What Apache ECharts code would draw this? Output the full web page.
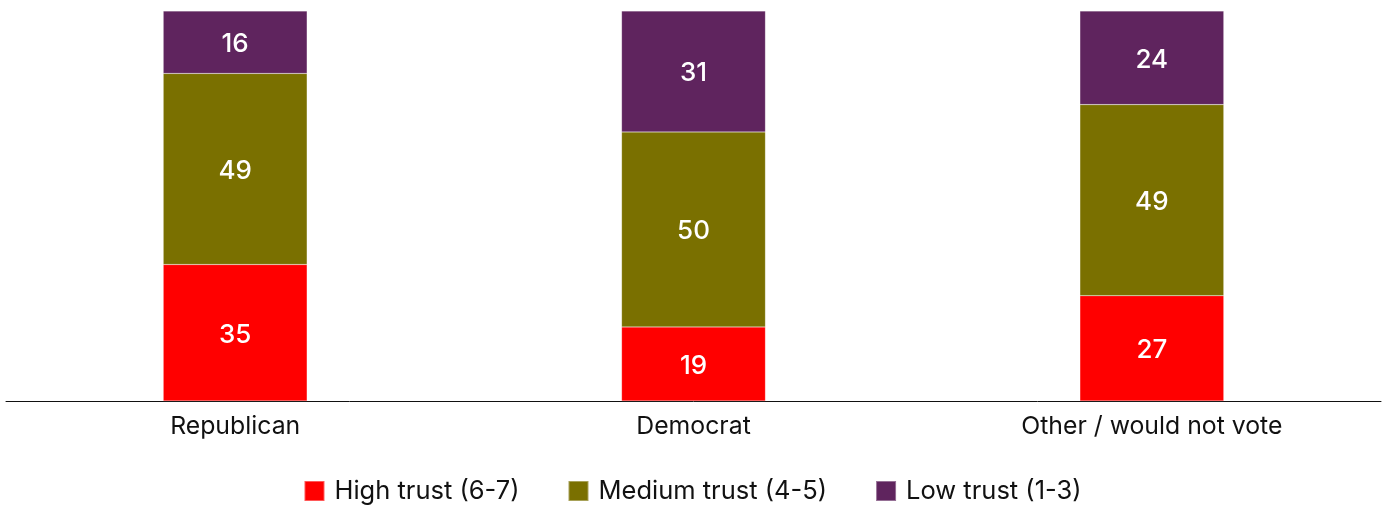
<!DOCTYPE html>
<html>
<head>
<meta charset="utf-8">
<script src="https://cdn.jsdelivr.net/npm/echarts@6/dist/echarts.min.js"></script>
<style>html,body{margin:0;padding:0;background:#fff}#c{width:1385px;height:505px}</style>
</head>
<body>
<div id="c"></div>
<script>
const categories = ['Republican', 'Democrat', 'Other / would not vote'];
const seriesNames = ['High trust (6-7)', 'Medium trust (4-5)', 'Low trust (1-3)'];
const highTrust = [35, 19, 27];
const mediumTrust = [49, 50, 49];
const lowTrust = [16, 31, 24];
const colors = ['#FF0000', '#7A7000', '#5F245E'];

const FONT = 'Inter, "Noto Sans", sans-serif';
const chart = echarts.init(document.getElementById('c'), null, {renderer: 'canvas'});
const values = [highTrust, mediumTrust, lowTrust];
chart.setOption({
  animation: false,
  grid: {left: 6, right: 4, top: 11, bottom: 104, containLabel: false},
  legend: {
    top: 473, left: 'center',
    itemWidth: 20, itemHeight: 20, itemGap: 48,
    icon: 'rect',
    textStyle: {fontFamily: FONT, fontSize: 25.5, color: '#111', padding: [0, 0, 0, 5]},
    data: seriesNames
  },
  xAxis: {
    type: 'category', data: categories,
    axisLine: {show: true, lineStyle: {color: '#111', width: 1}},
    axisTick: {show: false},
    axisLabel: {fontFamily: FONT, fontSize: 24.8, color: '#111', margin: 13}
  },
  yAxis: {type: 'value', min: 0, max: 100, show: false, splitLine: {show: false}},
  series: seriesNames.map((n, i) => ({
    name: n, type: 'bar', stack: 'total', data: values[i],
    barWidth: '31.4%',
    itemStyle: {color: colors[i], borderColor: 'rgba(255,255,255,0.35)', borderWidth: 0.5},
    label: {show: true, position: 'inside', offset: [0, 2], color: '#fff', fontFamily: FONT, fontSize: 26, fontWeight: 500}
  }))
});
</script>
</body>
</html>
